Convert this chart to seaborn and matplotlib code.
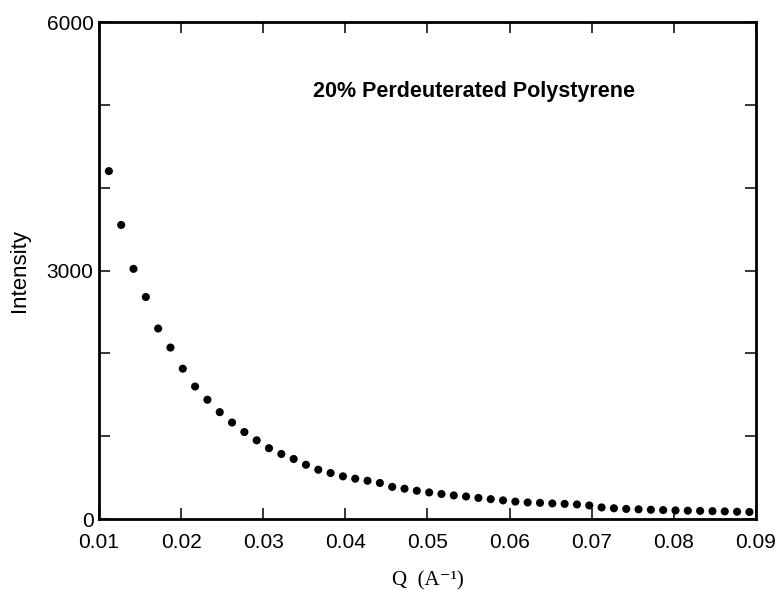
import matplotlib
matplotlib.use("Agg")
import matplotlib.pyplot as plt
import seaborn as sns
import pandas as pd

# Data
q_values = [0.0112, 0.0127, 0.0142, 0.0157, 0.0172, 0.0187, 0.0202, 0.0217, 0.0232,
            0.0247, 0.0262, 0.0277, 0.0292, 0.0307, 0.0322, 0.0337, 0.0352, 0.0367,
            0.0382, 0.0397, 0.0412, 0.0427, 0.0442, 0.0457, 0.0472, 0.0487, 0.0502,
            0.0517, 0.0532, 0.0547, 0.0562, 0.0577, 0.0592, 0.0607, 0.0622, 0.0637,
            0.0652, 0.0667, 0.0682, 0.0697, 0.0712, 0.0727, 0.0742, 0.0757, 0.0772,
            0.0787, 0.0802, 0.0817, 0.0832, 0.0847, 0.0862, 0.0877, 0.0892]
intensity = [4200, 3550, 3020, 2680, 2300, 2070, 1815, 1600, 1440,
             1290, 1165, 1050, 950, 855, 785, 725, 655, 595,
             555, 515, 487, 462, 435, 388, 366, 341, 321,
             302, 285, 272, 255, 240, 225, 210, 200, 195,
             188, 183, 176, 164, 140, 130, 122, 117, 112,
             108, 104, 101, 98, 95, 92, 88, 85]
x_ticks = [0.01, 0.02, 0.03, 0.04, 0.05, 0.06, 0.07, 0.08, 0.09]
x_tick_labels = ["0.01", "0.02", "0.03", "0.04", "0.05", "0.06", "0.07", "0.08", "0.09"]
y_major = [0, 3000, 6000]
y_minor = [1000, 2000, 4000, 5000]
title = "20% Perdeuterated Polystyrene"

sns.set_theme(style="ticks")
plt.rcParams["font.family"] = ["Liberation Sans", "DejaVu Sans"]

df = pd.DataFrame({"Q": q_values, "Intensity": intensity})

fig = plt.figure(figsize=(7.76, 5.90), dpi=100)
ax = fig.add_axes([0.1276, 0.1203, 0.8466, 0.8424])

sns.scatterplot(data=df, x="Q", y="Intensity", ax=ax, color="black", s=34,
                edgecolor="none", legend=False, clip_on=False, zorder=3)

# Axis limits and ticks
ax.set_xlim(0.01, 0.09)
ax.set_ylim(0, 6000)
ax.set_xticks(x_ticks)
ax.set_xticklabels(x_tick_labels)
ax.set_yticks(y_major)
ax.set_yticks(y_minor, minor=True)
ax.tick_params(axis="both", which="both", direction="in", top=True, right=True,
               length=8, width=1.1, color="black", labelsize=15, labelcolor="black")
ax.tick_params(axis="x", pad=10)
ax.tick_params(axis="y", pad=4)

for spine in ax.spines.values():
    spine.set_linewidth(2.0)
    spine.set_color("black")

# Labels
ax.set_ylabel("Intensity", fontsize=16, color="black", labelpad=12)
ax.set_xlabel("Q  (A\u207b\u00b9)", fontsize=15, color="black", labelpad=14,
              family=["Liberation Serif", "DejaVu Serif"])
ax.text(0.326, 0.86, title, transform=ax.transAxes, fontsize=15.5,
        fontweight="bold", color="black", va="center", ha="left")

fig.savefig("out.png", dpi=100)
